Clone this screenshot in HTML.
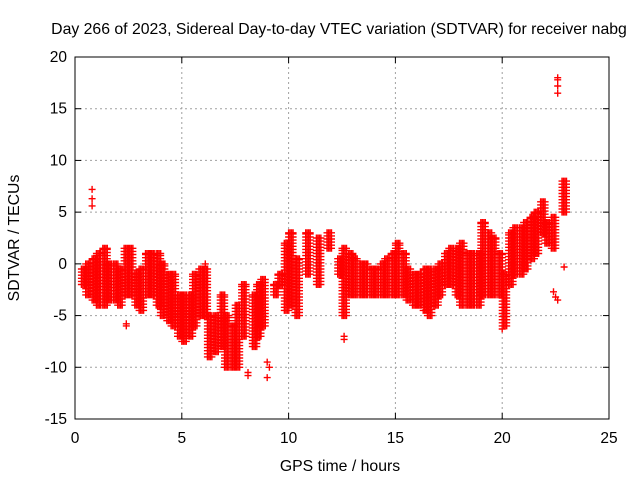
<!DOCTYPE html>
<html><head><meta charset="utf-8"><style>
body{margin:0;background:#fff}
svg{display:block;font-family:"Liberation Sans",sans-serif}
</style></head><body>
<svg id="chart" width="640" height="480" viewBox="0 0 640 480">
<rect width="640" height="480" fill="#fff"/>
<text x="339" y="34" font-size="15.8" text-anchor="middle">Day 266 of 2023, Sidereal Day-to-day VTEC variation (SDTVAR) for receiver nabg</text>
<text x="340" y="471" font-size="15.8" text-anchor="middle">GPS time / hours</text>
<text transform="translate(19,238) rotate(-90)" font-size="15.8" text-anchor="middle">SDTVAR / TECUs</text>
<g id="grid"></g>
<g id="marks"></g>
<rect x="75" y="57" width="534" height="362" fill="none" stroke="#000" stroke-width="1"/>
<g id="ticks"></g>
</svg>
<script>
const xTicks=[0,5,10,15,20,25];
const yTicks=[-15,-10,-5,0,5,10,15,20];
const hours=[0.3,0.5,0.8,1.0,1.3,1.5,1.8,2.0,2.3,2.5,2.8,3.0,3.3,3.5,3.8,4.0,4.3,4.5,4.8,5.0,5.3,5.5,5.8,6.0,6.2,6.5,6.8,7.0,7.3,7.5,7.8,8.3,8.5,8.7,9.3,9.5,9.8,10.0,10.3,10.8,11.3,11.8,12.3,12.5,12.8,13.0,13.3,13.5,13.8,14.0,14.3,14.5,14.8,15.0,15.3,15.5,15.8,16.0,16.3,16.5,16.8,17.0,17.3,17.5,17.8,18.0,18.3,18.5,18.8,19.0,19.3,19.5,19.8,20.0,20.3,20.5,20.8,21.0,21.3,21.5,21.8,22.0,22.3,22.8];
const lowVals=[-2,-3,-3.5,-4,-4,-3.5,-3.5,-4,-3,-3,-4,-4.5,-3,-3,-4,-5,-5.5,-6,-7,-7.5,-7,-6,-5,-5,-9,-8.5,-8,-10,-10,-10,-7,-8,-7,-6,-3,-2,-4.5,-4,-5,-1,-2,1.5,-1,-5,-3,-3,-3,-3,-3,-3,-3,-3,-3,-3,-3,-3.5,-4,-4,-4.5,-5,-4,-3,-2,-2,-3,-4,-4,-4,-4,-3,-3,-3,-3,-6,-2,-1,-1,-0.5,0.5,1,3,2,1.5,5];
const highVals=[-0.5,0,0.5,1,1.5,0,0,-0.5,1.5,1.5,-1,-0.5,1,1,1,0,-1,-1,-3,-3,-3,-1,-0.5,-0.5,-5,-5,-3,-5,-6,-4,-2,-3,-2,-1.5,-2,-1,2,3,0.5,3,2.5,3,0.5,1.5,1,0.5,0,0,-0.5,-0.5,0,0.5,1,2,1,-0.5,-1,-1,-0.5,-0.5,-0.5,0,1,1.5,1.5,2,1,1,1,4,3,2.5,1,-1,3,3.5,3.5,4,4.5,5,6,4,4.5,8];
const outHours=[0.8,0.8,0.8,2.4,2.4,6.1,8.1,8.1,9.0,9.0,9.1,12.6,12.6,20.0,22.4,22.5,22.6,22.6,22.6,22.6,22.6,22.9];
const outVals=[7.2,6.3,5.6,-5.8,-6,0,-10.5,-10.8,-11,-9.5,-10,-7,-7.3,-6.3,-2.7,-3.2,16.5,17.2,17.8,18,-3.5,-0.3];
const NS='http://www.w3.org/2000/svg';
const xs=h=>75+534*h/25, ys=v=>419-362*(v+15)/35;
const grid=document.getElementById('grid'),ticks=document.getElementById('ticks'),marks=document.getElementById('marks');
function line(p,x1,y1,x2,y2,st,dash){const l=document.createElementNS(NS,'line');l.setAttribute('x1',x1);l.setAttribute('y1',y1);l.setAttribute('x2',x2);l.setAttribute('y2',y2);l.setAttribute('stroke',st);if(dash)l.setAttribute('stroke-dasharray',dash);p.appendChild(l);return l;}
function txt(x,y,s,anc){const t=document.createElementNS(NS,'text');t.setAttribute('x',x);t.setAttribute('y',y);t.setAttribute('font-size','15.5');t.setAttribute('text-anchor',anc);t.textContent=s;ticks.appendChild(t);return t;}
xTicks.forEach(v=>{const x=xs(v);
 if(v>0&&v<25){const g=line(grid,x,57,x,419,'#a0a0a0','2,3');
 
 }
 line(ticks,x,419,x,413,'#000');line(ticks,x,57,x,63,'#000');
 const t=txt(x,443,String(v),'middle');
 
 });
yTicks.forEach(v=>{const y=ys(v);
 if(v>-15&&v<20){const g=line(grid,75,y,609,y,'#a0a0a0','2,3');
 
 }
 line(ticks,75,y,81,y,'#000');line(ticks,609,y,603,y,'#000');
 const t=txt(67,y+5,String(v),'end');
 
 });
let d='';
function plus(h,v){const x=xs(h),y=ys(v);d+=`M${(x-3.5).toFixed(1)} ${y.toFixed(1)}h7M${x.toFixed(1)} ${(y-3.5).toFixed(1)}v7`;}
hours.forEach((h,i)=>{const lo=lowVals[i],hi=highVals[i];
 [0,0.07,0.14,0.21].forEach(dx=>{for(let v=lo;v<=hi+0.01;v+=0.3)plus(h+dx,v);plus(h+dx,hi);});});
outHours.forEach((h,i)=>plus(h,outVals[i]));
const p=document.createElementNS(NS,'path');
p.setAttribute('d',d);p.setAttribute('stroke','#ff0000');p.setAttribute('stroke-width','1.4');p.setAttribute('fill','none');


marks.appendChild(p);
</script>
</body></html>
